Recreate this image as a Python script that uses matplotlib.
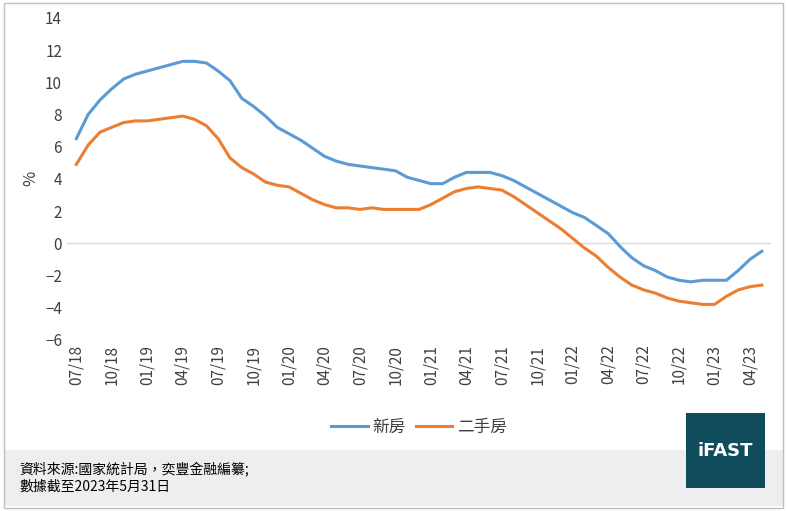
import numpy as np
import pandas as pd
import matplotlib.pyplot as plt
from matplotlib.patches import Rectangle

plt.rcParams['font.family'] = ['Noto Sans CJK TC', 'DejaVu Sans']

months = pd.date_range('2018-07-01', '2023-05-01', freq='MS')
new_home = [6.5, 8.0, 8.9, 9.6, 10.2, 10.5, 10.7, 10.9, 11.1, 11.3, 11.3, 11.2,
            10.7, 10.1, 9.0, 8.5, 7.9, 7.2, 6.8, 6.4, 5.9, 5.4, 5.1, 4.9,
            4.8, 4.7, 4.6, 4.5, 4.1, 3.9, 3.7, 3.7, 4.1, 4.4, 4.4, 4.4,
            4.2, 3.9, 3.5, 3.1, 2.7, 2.3, 1.9, 1.6, 1.1, 0.6, -0.2, -0.9,
            -1.4, -1.7, -2.1, -2.3, -2.4, -2.3, -2.3, -2.3, -1.7, -1.0, -0.5]
second_hand = [4.9, 6.1, 6.9, 7.2, 7.5, 7.6, 7.6, 7.7, 7.8, 7.9, 7.7, 7.3,
               6.5, 5.3, 4.7, 4.3, 3.8, 3.6, 3.5, 3.1, 2.7, 2.4, 2.2, 2.2,
               2.1, 2.2, 2.1, 2.1, 2.1, 2.1, 2.4, 2.8, 3.2, 3.4, 3.5, 3.4,
               3.3, 2.9, 2.4, 1.9, 1.4, 0.9, 0.3, -0.3, -0.8, -1.5, -2.1, -2.6,
               -2.9, -3.1, -3.4, -3.6, -3.7, -3.8, -3.8, -3.3, -2.9, -2.7, -2.6]
labels = ['新房', '二手房']

fig = plt.figure(figsize=(7.87, 5.11), dpi=100)
fig.patch.set_facecolor('white')
ax = fig.add_axes([0.085, 0.335, 0.895, 0.63])
x = np.arange(len(months))
ax.axhline(0, color='#d9d9d9', lw=1, zorder=1)
ax.plot(x, new_home, color='#5b9bd5', lw=2.2, label=labels[0], zorder=3)
ax.plot(x, second_hand, color='#ed7d31', lw=2.2, label=labels[1], zorder=3)
ax.set_xlim(-0.8, len(months) - 0.2)
ax.set_ylim(-6, 14)
ax.set_yticks(range(-6, 15, 2))
ax.set_xticks(x[::3])
ax.set_xticklabels([m.strftime('%m/%y') for m in months[::3]], rotation=90)
ax.tick_params(labelsize=11, colors='#404040', length=0)
ax.set_ylabel('%', fontsize=12, color='#404040')
for s in ax.spines.values():
    s.set_visible(False)
ax.legend(loc='upper center', bbox_to_anchor=(0.5, -0.2), ncol=2, frameon=False,
          fontsize=12, labelcolor='#404040', handlelength=2.2,
          handletextpad=0.3, columnspacing=0.6)

fig.patches.append(Rectangle((0.005, 0.01), 0.99, 0.11, transform=fig.transFigure,
                             facecolor='#eeeeee', edgecolor='none', zorder=0))
fig.patches.append(Rectangle((0.005, 0.005), 0.99, 0.99, transform=fig.transFigure,
                             facecolor='none', edgecolor='#bfbfbf', lw=1))
fig.text(0.025, 0.095, '資料來源:國家統計局，奕豐金融編纂;\n數據截至2023年5月31日',
         fontsize=10, va='top', color='black', linespacing=1.2)
fig.patches.append(Rectangle((0.872, 0.045), 0.1, 0.147, transform=fig.transFigure,
                             facecolor='#0f4c5c', edgecolor='none', zorder=2))
fig.text(0.922, 0.118, 'iFAST', fontsize=13, color='white', fontweight='bold',
         ha='center', va='center', family='DejaVu Sans', zorder=3)

fig.savefig('out.png')
